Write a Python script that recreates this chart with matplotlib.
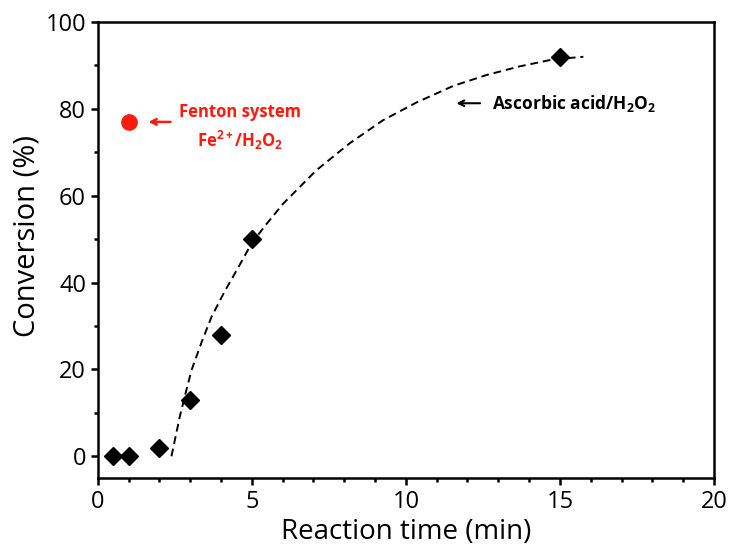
import matplotlib.pyplot as plt
from matplotlib.ticker import MultipleLocator

plt.rcParams['font.family'] = ['Open Sans', 'DejaVu Sans']
plt.rcParams['mathtext.fontset'] = 'custom'
plt.rcParams['mathtext.rm'] = 'Open Sans:bold'
plt.rcParams['mathtext.it'] = 'Open Sans:bold'
plt.rcParams['mathtext.bf'] = 'Open Sans:bold'

# ascorbic acid / H2O2 measurements
time_min = [0.5, 1, 2, 3, 4, 5, 15]
conversion = [0, 0, 2, 13, 28, 50, 92]

# Fenton reference point
fenton_time = [1]
fenton_conv = [77]

# dashed guide curve
trend_x = [2.39, 2.66, 2.82, 3.04, 3.37, 3.69, 4.12, 4.56, 4.99, 5.42,
           6.02, 7.10, 8.18, 9.26, 10.35, 11.54, 12.62, 13.70, 14.78, 15.76]
trend_y = [0, 9.1, 13.7, 19.8, 26.3, 32.1, 38.0, 43.5, 49.0, 53.0,
           58.2, 65.9, 72.1, 77.4, 81.5, 85.3, 87.8, 89.8, 91.4, 92.0]

fig = plt.figure(figsize=(7.3, 5.51), dpi=100)
ax = fig.add_axes([0.134, 0.1325, 0.844, 0.8275])

ax.plot(trend_x, trend_y, ls=(0, (4, 2.5)), color='black', lw=1.4, zorder=2)
ax.plot(time_min, conversion, 'D', color='black', ms=9, zorder=3)
ax.plot(fenton_time, fenton_conv, 'o', color='#ff1a0f', ms=11, zorder=3)

#-------------------------------------------------
# annotations

ax.annotate('', xy=(1.55, 77), xytext=(2.45, 77),
            arrowprops=dict(arrowstyle='->', color='#ff1a0f', lw=1.8))
ax.text(4.6, 79.3, 'Fenton system', color='#ff1a0f', fontsize=12,
        fontweight='bold', ha='center', va='center')
ax.text(4.6, 72.8, r'Fe$^{2+}$/H$_2$O$_2$', color='#ff1a0f', fontsize=12,
        fontweight='bold', ha='center', va='center')

ax.annotate('', xy=(11.55, 81.3), xytext=(12.5, 81.3),
            arrowprops=dict(arrowstyle='->', color='black', lw=1.5))
ax.text(12.8, 81.3, r'Ascorbic acid/H$_2$O$_2$', color='black', fontsize=12.5,
        fontweight='bold', ha='left', va='center')

#-------------------------------------------------
# axes styling

ax.set_xlim(0, 20)
ax.set_ylim(-5, 100)
ax.xaxis.set_major_locator(MultipleLocator(5))
ax.xaxis.set_minor_locator(MultipleLocator(1))
ax.yaxis.set_major_locator(MultipleLocator(20))
ax.yaxis.set_minor_locator(MultipleLocator(10))

for sp in ax.spines.values():
    sp.set_linewidth(1.8)

ax.tick_params(which='major', direction='out', length=5, width=1.8,
               labelsize=17, top=False, right=False)
ax.tick_params(which='minor', direction='out', length=3, width=1.8,
               top=False, right=False)

ax.set_xlabel('Reaction time (min)', fontsize=20, labelpad=3)
ax.set_ylabel('Conversion (%)', fontsize=21)
ax.yaxis.set_label_coords(-0.092, 0.53)

fig.savefig('out.png', dpi=100)
